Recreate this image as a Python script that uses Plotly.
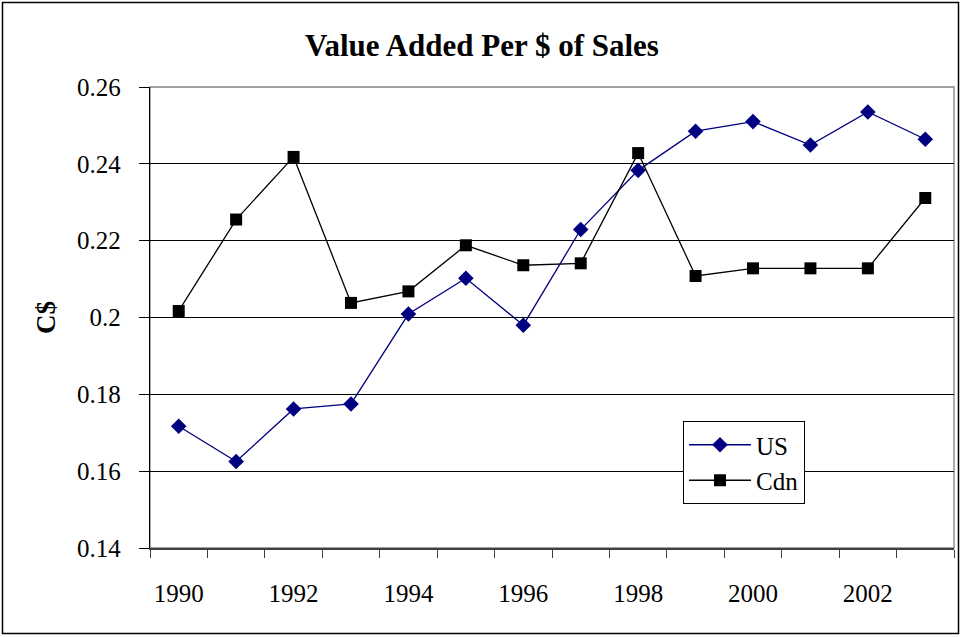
import plotly.graph_objects as go

years = list(range(1990, 2004))
us_values = [0.1717, 0.1625, 0.1762, 0.1775, 0.2009, 0.2102, 0.1980, 0.2229,
             0.2383, 0.2485, 0.2510, 0.2449, 0.2535, 0.2464]
cdn_values = [0.2017, 0.2255, 0.2418, 0.2038, 0.2068, 0.2188, 0.2136, 0.2141,
              0.2428, 0.2108, 0.2128, 0.2128, 0.2128, 0.2311]
tick_labels = ["1990", "1992", "1994", "1996", "1998", "2000", "2002"]
tick_years = [int(t) for t in tick_labels]
y_ticks = [0.14, 0.16, 0.18, 0.20, 0.22, 0.24, 0.26]
y_tick_text = ["0.14", "0.16", "0.18", "0.2", "0.22", "0.24", "0.26"]

FONT = "Liberation Serif"
boundaries = [y - 0.5 for y in years] + [years[-1] + 0.5]

fig = go.Figure()
fig.add_trace(go.Scatter(
    x=years, y=us_values, name="US", mode="lines+markers",
    line=dict(color="#000080", width=1.3),
    marker=dict(symbol="diamond", size=12, color="#000080"),
))
fig.add_trace(go.Scatter(
    x=years, y=cdn_values, name="Cdn", mode="lines+markers",
    line=dict(color="#000000", width=1.3),
    marker=dict(symbol="square", size=12, color="#000000"),
))

L, R, T, B = 150, 8, 87, 89
W, H = 962, 637
pw, ph = W - L - R, H - T - B

def px_x(p):
    return (p - L) / pw

def px_y(p):
    return (H - B - p) / ph

fig.update_layout(
    width=W, height=H,
    margin=dict(l=L, r=R, t=T, b=B),
    paper_bgcolor="white", plot_bgcolor="white",
    font=dict(family=FONT, size=24, color="black"),
    title=dict(text="<b>Value Added Per $ of Sales</b>", x=0.501, xanchor="center",
               y=1 - 45 / H, yanchor="middle", font=dict(family=FONT, size=31)),
    showlegend=True,
    legend=dict(x=px_x(683), y=px_y(421), xanchor="left", yanchor="top",
                bgcolor="white", bordercolor="black", borderwidth=1,
                font=dict(family=FONT, size=25), tracegroupgap=0,
                itemwidth=62),
    xaxis=dict(range=[years[0] - 0.5, years[-1] + 0.5], showgrid=False, zeroline=False,
               tickmode="array", tickvals=tick_years, ticktext=tick_labels,
               ticks="outside", ticklen=0, ticklabelstandoff=22,
               showline=True, linecolor="#404040", linewidth=1.5,
               minor=dict(tickmode="array", tickvals=boundaries, ticks="outside",
                          ticklen=8, tickcolor="#404040", showgrid=False),
               tickfont=dict(family=FONT, size=25)),
    yaxis=dict(range=[0.14, 0.26], tickmode="array", tickvals=y_ticks, ticktext=y_tick_text,
               showgrid=True, gridcolor="#000000", gridwidth=1, zeroline=False,
               ticks="outside", ticklen=10, tickcolor="#000000",
               showline=True, linecolor="#000000", linewidth=1.3,
               ticklabelstandoff=13,
               tickfont=dict(family=FONT, size=25)),
    annotations=[dict(text="<b>C$</b>", x=px_x(46), y=px_y(318), xref="paper", yref="paper",
                      textangle=-90, showarrow=False, font=dict(family=FONT, size=27),
                      xanchor="center", yanchor="middle")],
    shapes=[
        dict(type="rect", xref="paper", yref="paper", x0=0, x1=1, y0=0, y1=1,
             line=dict(color="#808080", width=1.3), layer="below"),
        dict(type="rect", xref="paper", yref="paper",
             x0=px_x(2.5), x1=px_x(958.5), y0=px_y(633.5), y1=px_y(2.5),
             line=dict(color="black", width=1.5)),
    ],
)

fig.write_html("out.html", config={"displayModeBar": False},
               post_script="document.body.style.margin='0';document.body.style.padding='0';")
